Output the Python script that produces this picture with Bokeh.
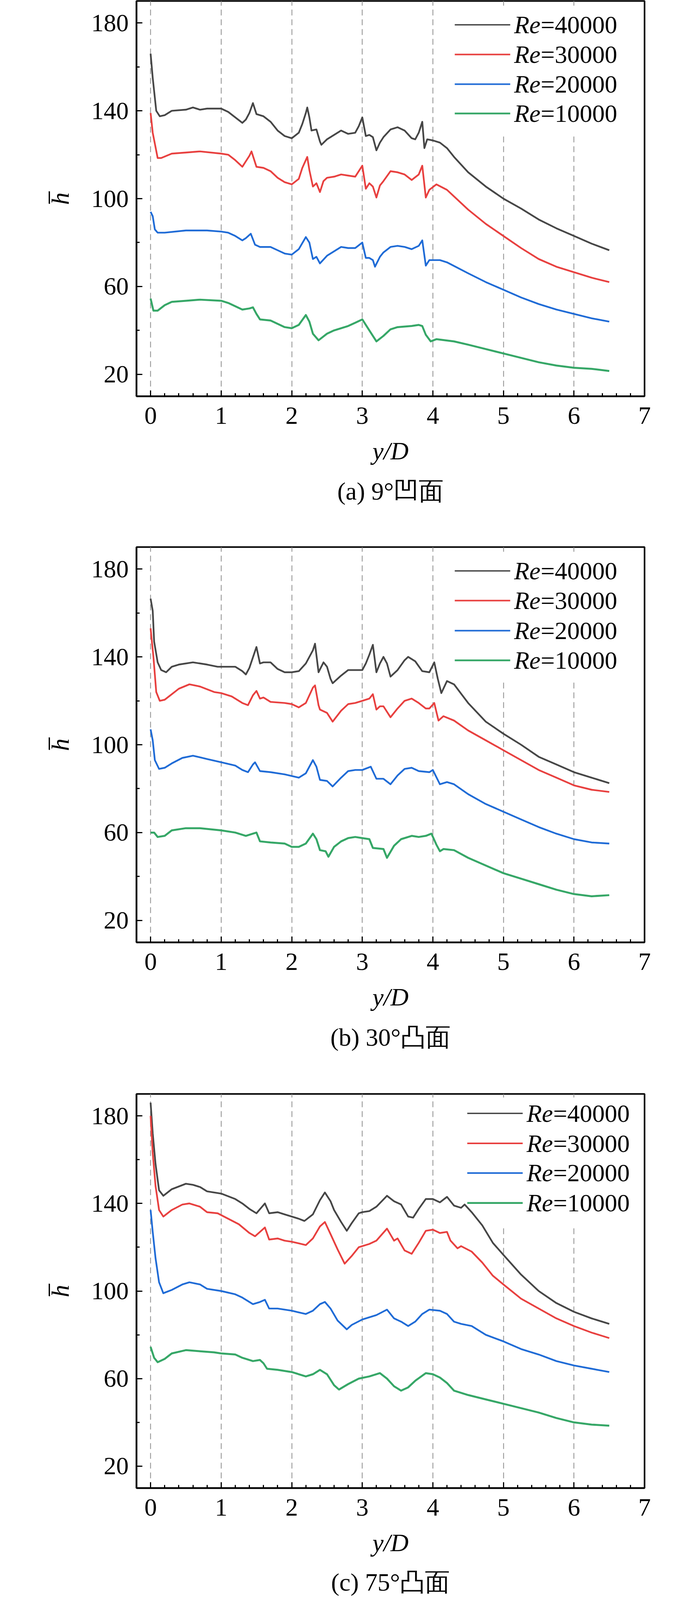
from bokeh.plotting import figure
from bokeh.layouts import column
from bokeh.models import FixedTicker, Label, BoxAnnotation, Title
from bokeh.embed import file_html
from bokeh.resources import INLINE

# ---------------- data ----------------
RE_LABELS = ["=40000", "=30000", "=20000", "=10000"]
COLORS = ["#464646", "#e8403f", "#1f6bd6", "#36a767"]
WIDTHS = [4.4, 4.4, 4.4, 5.0]
LEGEND_WIDTHS = [3.5, 4.0, 4.0, 4.7]
CAPTIONS = ["(a) 9°凹面", "(b) 30°凸面", "(c) 75°凸面"]
X_TICKS = [0, 1, 2, 3, 4, 5, 6, 7]
Y_TICKS = [20, 60, 100, 140, 180]
Y_MINOR = [40, 80, 120, 160]
GRID_X = [0, 1, 2, 3, 4, 5, 6]

# panel (a) 9 deg concave
A_X_40 = [0, 0.03, 0.08, 0.13, 0.2, 0.3, 0.5, 0.6, 0.7, 0.8, 1.0, 1.1, 1.2, 1.3, 1.35, 1.4, 1.45, 1.5, 1.6, 1.7, 1.8, 1.9, 2.0, 2.1, 2.15, 2.2, 2.22, 2.25, 2.28, 2.35, 2.4, 2.42, 2.5, 2.6, 2.7, 2.8, 2.9, 2.95, 3.0, 3.05, 3.1, 3.15, 3.2, 3.25, 3.3, 3.4, 3.5, 3.6, 3.7, 3.75, 3.8, 3.85, 3.88, 3.92, 4.0, 4.1, 4.2, 4.3, 4.5, 4.75, 5.0, 5.25, 5.5, 5.75, 6.0, 6.25, 6.5]
A_H_40 = [166, 155, 140, 137.5, 138, 140, 140.5, 141.5, 140.5, 141, 141, 139.5, 137, 134.5, 136, 139, 143.5, 138.5, 137.5, 135, 131, 128.5, 127.5, 130, 134, 139, 141.5, 137, 131, 131.5, 126, 124.5, 127, 129, 131, 129.5, 130, 133, 137, 128.5, 129, 128, 122, 125.5, 128, 131.5, 132.5, 131, 127.5, 127, 130, 135, 123, 127, 126.5, 125.5, 123, 119, 112, 105.5, 100, 95.5, 90.5, 86.5, 83, 79.5, 76.5]
A_X_30 = [0, 0.03, 0.1, 0.15, 0.3, 0.5, 0.7, 1.0, 1.1, 1.2, 1.3, 1.35, 1.4, 1.43, 1.5, 1.6, 1.7, 1.8, 1.9, 2.0, 2.1, 2.15, 2.22, 2.25, 2.3, 2.35, 2.4, 2.45, 2.5, 2.6, 2.7, 2.8, 2.9, 2.95, 3.0, 3.05, 3.1, 3.15, 3.2, 3.25, 3.3, 3.4, 3.5, 3.6, 3.7, 3.8, 3.85, 3.9, 3.95, 4.05, 4.2, 4.3, 4.5, 4.75, 5.0, 5.25, 5.5, 5.75, 6.0, 6.25, 6.5]
A_H_30 = [139, 130, 118.5, 118.5, 120.5, 121, 121.5, 120.5, 120, 117.5, 114.5, 117, 119.5, 121.5, 114.5, 114, 112.5, 109.5, 107.5, 106.5, 109, 114, 119, 113, 105.5, 107, 103, 108, 109.5, 110, 111, 110.5, 110, 112.5, 115, 104.5, 107, 105.5, 100.5, 106, 108, 112.5, 112, 111, 108.5, 111, 115, 100.5, 104, 106.5, 104, 101, 95, 88.5, 83, 77.5, 72.5, 69, 66.5, 64, 62]
A_X_20 = [0, 0.03, 0.06, 0.1, 0.2, 0.5, 0.8, 1.0, 1.1, 1.2, 1.3, 1.35, 1.42, 1.48, 1.55, 1.7, 1.8, 1.9, 2.0, 2.1, 2.2, 2.25, 2.3, 2.35, 2.4, 2.5, 2.6, 2.7, 2.8, 2.9, 3.0, 3.05, 3.1, 3.15, 3.18, 3.25, 3.3, 3.4, 3.5, 3.6, 3.7, 3.8, 3.85, 3.9, 3.95, 4.1, 4.2, 4.5, 4.75, 5.0, 5.25, 5.5, 5.75, 6.0, 6.25, 6.5]
A_H_20 = [94, 92, 86, 84.5, 84.5, 85.5, 85.5, 85, 84.5, 83, 81, 82, 84, 79, 78, 78, 76.5, 75, 74.5, 77, 82.5, 80, 72.5, 73.5, 70.5, 74, 76, 78, 77.5, 77.5, 80, 73, 73, 72, 69, 73.5, 75.5, 78, 78.5, 78, 77, 78.5, 81, 69.5, 72, 72, 71, 66, 62, 58.5, 55, 52, 49.5, 47.5, 45.5, 44]
A_X_10 = [0, 0.04, 0.1, 0.2, 0.3, 0.5, 0.7, 1.0, 1.1, 1.2, 1.3, 1.4, 1.45, 1.5, 1.55, 1.7, 1.8, 1.9, 2.0, 2.1, 2.2, 2.25, 2.3, 2.38, 2.5, 2.6, 2.8, 2.9, 3.0, 3.1, 3.2, 3.3, 3.4, 3.5, 3.7, 3.8, 3.85, 3.9, 3.97, 4.05, 4.3, 4.5, 4.75, 5.0, 5.25, 5.5, 5.75, 6.0, 6.25, 6.5]
A_H_10 = [54.5, 49, 49, 51.5, 53, 53.5, 54, 53.5, 52.5, 51, 49.5, 50, 50.5, 47.5, 45, 44.5, 43, 41.5, 41, 42.5, 47, 44, 38.5, 35.5, 38.5, 40, 42, 43.5, 45, 40, 35, 37.5, 40.5, 41.5, 42, 42.5, 42, 38, 35, 36, 35, 33.5, 31.5, 29.5, 27.5, 25.5, 24, 23, 22.5, 21.5]

# panel (b) 30 deg convex
B_X_40 = [0, 0.03, 0.05, 0.1, 0.15, 0.22, 0.3, 0.4, 0.6, 0.8, 0.95, 1.1, 1.2, 1.3, 1.35, 1.4, 1.5, 1.55, 1.6, 1.7, 1.8, 1.9, 2.0, 2.1, 2.2, 2.3, 2.33, 2.38, 2.45, 2.5, 2.55, 2.58, 2.7, 2.8, 2.9, 3.0, 3.05, 3.1, 3.15, 3.2, 3.25, 3.3, 3.35, 3.4, 3.5, 3.6, 3.65, 3.75, 3.85, 3.95, 4.02, 4.07, 4.12, 4.2, 4.3, 4.5, 4.75, 5.0, 5.25, 5.5, 5.75, 6.0, 6.25, 6.5]
B_H_40 = [166.5, 161, 147, 137.5, 134, 133, 135.5, 136.5, 137.5, 136.5, 135.5, 135.5, 135.5, 133.5, 132, 135, 144.5, 137, 137.5, 137.5, 134.5, 133, 133, 133.5, 137, 143, 146, 133, 137.5, 135.5, 130, 128, 131.5, 134, 134, 134, 137, 141, 145.5, 133, 137, 140, 137, 131, 134, 138.5, 140, 138, 133.5, 133, 137.5, 130, 123.5, 129, 127.5, 119, 110.5, 105, 100, 94.5, 91, 87.5, 85, 82.5]
B_X_30 = [0, 0.04, 0.08, 0.13, 0.2, 0.3, 0.4, 0.55, 0.7, 0.9, 1.0, 1.15, 1.3, 1.38, 1.45, 1.5, 1.55, 1.6, 1.7, 1.9, 2.0, 2.1, 2.2, 2.3, 2.33, 2.38, 2.4, 2.5, 2.58, 2.7, 2.8, 2.9, 3.0, 3.1, 3.15, 3.2, 3.25, 3.3, 3.4, 3.5, 3.6, 3.7, 3.8, 3.9, 3.95, 4.02, 4.08, 4.15, 4.3, 4.5, 4.75, 5.0, 5.25, 5.5, 5.75, 6.0, 6.25, 6.5]
B_H_30 = [153, 140, 124, 120, 120.5, 123, 125.5, 127.5, 126.5, 124, 123.5, 122, 119, 118, 122.5, 124.5, 121, 121.5, 119.5, 119, 118.5, 117, 119, 126, 127, 118, 116, 114.5, 110.5, 115.5, 118.5, 119, 120, 121, 123, 116, 117.5, 117.5, 112.5, 116.5, 120, 121, 119, 116.5, 116.5, 119, 111, 113, 111, 106.5, 102, 97.5, 93, 88.5, 85, 81.5, 79.5, 78.5]
B_X_20 = [0, 0.03, 0.06, 0.12, 0.2, 0.3, 0.45, 0.6, 0.8, 1.0, 1.2, 1.3, 1.38, 1.45, 1.48, 1.55, 1.7, 1.9, 2.1, 2.2, 2.3, 2.35, 2.4, 2.5, 2.58, 2.7, 2.8, 2.9, 3.0, 3.12, 3.2, 3.3, 3.4, 3.5, 3.6, 3.7, 3.8, 3.95, 4.0, 4.1, 4.2, 4.3, 4.5, 4.75, 5.0, 5.25, 5.5, 5.75, 6.0, 6.25, 6.5]
B_H_20 = [107, 102, 93, 89, 89.5, 91.5, 94, 95, 93.5, 92, 90.5, 88.5, 87.5, 91, 92, 88, 87.5, 86.5, 85, 87, 93, 90, 84, 83.5, 81, 85, 88, 88.5, 88.5, 90, 84.5, 84.5, 82, 86, 89, 89.5, 88, 87.5, 88.5, 82, 83, 82, 77.5, 73, 69.5, 66, 62.5, 59.5, 57, 55.5, 55]
B_X_10 = [0, 0.05, 0.1, 0.2, 0.3, 0.5, 0.7, 1.0, 1.2, 1.35, 1.45, 1.5, 1.55, 1.7, 1.9, 2.0, 2.1, 2.2, 2.3, 2.35, 2.4, 2.48, 2.52, 2.6, 2.7, 2.8, 2.9, 3.0, 3.1, 3.15, 3.3, 3.35, 3.45, 3.55, 3.7, 3.8, 3.9, 3.98, 4.05, 4.1, 4.15, 4.3, 4.5, 4.75, 5.0, 5.25, 5.5, 5.75, 6.0, 6.25, 6.5]
B_H_10 = [60, 60, 58, 58.5, 61, 62, 62, 61, 60, 58.5, 59.5, 60, 56, 55.5, 55, 53.5, 53.5, 55, 59.5, 57, 52, 51.5, 49, 53.5, 56, 57.5, 58, 57.5, 57, 53, 52.5, 48.5, 54, 57, 58.5, 58, 58.5, 59.5, 54.5, 51.5, 52.5, 52, 48.5, 45, 41.5, 39, 36.5, 34, 32, 31, 31.5]

# panel (c) 75 deg convex
C_X_40 = [0, 0.03, 0.07, 0.12, 0.18, 0.3, 0.5, 0.6, 0.7, 0.8, 1.0, 1.2, 1.3, 1.4, 1.5, 1.58, 1.62, 1.68, 1.8, 1.9, 2.0, 2.1, 2.18, 2.3, 2.4, 2.47, 2.55, 2.6, 2.7, 2.78, 2.85, 2.95, 3.0, 3.1, 3.2, 3.35, 3.45, 3.55, 3.65, 3.72, 3.8, 3.9, 4.0, 4.1, 4.2, 4.3, 4.4, 4.45, 4.55, 4.7, 4.85, 5.0, 5.25, 5.5, 5.75, 6.0, 6.25, 6.5]
C_H_40 = [186, 172, 158, 146, 143.5, 146.5, 149, 148.5, 147.5, 145.5, 144.5, 142, 140, 137.5, 135.5, 138.5, 140, 135.5, 136, 135, 134, 133, 132, 135, 141.5, 145, 141, 137, 131.5, 127.5, 131, 135.5, 136, 136.5, 138.5, 143.5, 141, 139.5, 134, 133.5, 137.5, 142, 142, 140.5, 143, 139, 138, 139.5, 136, 130, 122, 116.5, 107.5, 100, 94.5, 90.5, 87.5, 85]
C_X_30 = [0, 0.03, 0.07, 0.12, 0.18, 0.3, 0.45, 0.55, 0.7, 0.8, 0.95, 1.1, 1.25, 1.4, 1.48, 1.55, 1.62, 1.68, 1.8, 1.9, 2.0, 2.2, 2.3, 2.4, 2.47, 2.55, 2.65, 2.75, 2.85, 2.95, 3.1, 3.2, 3.35, 3.45, 3.5, 3.6, 3.7, 3.8, 3.9, 4.0, 4.1, 4.2, 4.25, 4.35, 4.4, 4.55, 4.7, 4.85, 5.0, 5.25, 5.5, 5.75, 6.0, 6.25, 6.5]
C_H_30 = [180, 163, 148, 137, 134, 137, 139.5, 140, 138.5, 136, 135.5, 133, 130.5, 126.5, 125, 127, 129, 123.5, 124, 123, 122.5, 121, 124, 129.5, 131.5, 126, 119, 112.5, 116, 120, 121.5, 123, 128.5, 123, 124, 118.5, 117, 122, 127.5, 128, 126.5, 127, 123, 119.5, 120.5, 118, 113, 107, 103, 96.5, 92, 87.5, 84, 81, 78.5]
C_X_20 = [0, 0.03, 0.07, 0.12, 0.18, 0.3, 0.45, 0.55, 0.7, 0.8, 1.0, 1.2, 1.3, 1.45, 1.55, 1.62, 1.68, 1.8, 2.0, 2.2, 2.3, 2.4, 2.47, 2.55, 2.65, 2.78, 2.85, 3.0, 3.2, 3.35, 3.45, 3.55, 3.65, 3.75, 3.85, 3.95, 4.1, 4.2, 4.3, 4.4, 4.55, 4.75, 5.0, 5.25, 5.5, 5.75, 6.0, 6.25, 6.5]
C_H_20 = [137, 127, 115, 104, 99, 100.5, 103, 104, 103, 101, 100, 98.5, 97, 94, 95, 96, 92, 92, 91, 89.5, 91, 94, 95, 92, 86.5, 82.5, 84.5, 87, 89, 91.5, 87.5, 86, 84, 86, 89.5, 91.5, 91, 89.5, 86, 85, 84, 80, 77, 73.5, 71, 68, 66, 64.5, 63]
C_X_10 = [0, 0.05, 0.1, 0.2, 0.3, 0.5, 0.7, 0.9, 1.0, 1.2, 1.3, 1.45, 1.55, 1.6, 1.65, 1.8, 2.0, 2.2, 2.3, 2.4, 2.5, 2.6, 2.67, 2.8, 2.95, 3.1, 3.25, 3.35, 3.45, 3.55, 3.65, 3.75, 3.9, 4.0, 4.1, 4.2, 4.3, 4.35, 4.5, 4.75, 5.0, 5.25, 5.5, 5.75, 6.0, 6.25, 6.5]
C_H_10 = [74.5, 69.5, 67.5, 69, 71.5, 73, 72.5, 72, 71.5, 71, 69.5, 68, 68.5, 67, 64.5, 64, 63, 61, 62, 64, 62, 57, 55, 57.5, 60, 61, 62.5, 60, 56.5, 54.5, 56, 59, 62.5, 62, 60.5, 58, 54.5, 54, 52.5, 50.5, 48.5, 46.5, 44.5, 42, 40, 39, 38.5]

PANELS = [
    [(A_X_40, A_H_40), (A_X_30, A_H_30), (A_X_20, A_H_20), (A_X_10, A_H_10)],
    [(B_X_40, B_H_40), (B_X_30, B_H_30), (B_X_20, B_H_20), (B_X_10, B_H_10)],
    [(C_X_40, C_H_40), (C_X_30, C_H_30), (C_X_20, C_H_20), (C_X_10, C_H_10)],
]

# ---------------- layout constants ----------------
X0, X1 = -0.2, 7.0
Y0, Y1 = 10.0, 190.0
FRAME_W, FRAME_H = 1301, 1012
BL, BR = 349, 106
PXX = FRAME_W / (X1 - X0)
PXY = FRAME_H / (Y1 - Y0)
FONT = "Liberation Serif"
FS = "64px"

LAYOUT = [
    dict(top=2, bottom=366, lx=0, rows=[61, 137, 213, 288], cap=54),
    dict(top=20, bottom=368, lx=0, rows=[61, 137, 214, 290], cap=54),
    dict(top=20, bottom=298, lx=32, rows=[50, 127, 203, 280], cap=50),
]


def dx(px):
    return X0 + px / PXX


def dy(px_from_top):
    return Y1 - px_from_top / PXY


def make_panel(series, caption, lay):
    p = figure(width=BL + FRAME_W + BR, height=lay["top"] + FRAME_H + lay["bottom"],
               x_range=(X0, X1), y_range=(Y0, Y1),
               min_border_left=BL, min_border_right=BR,
               min_border_top=lay["top"], min_border_bottom=lay["bottom"],
               output_backend="svg", toolbar_location=None)
    p.background_fill_color = "white"
    p.border_fill_color = "white"
    p.outline_line_color = "black"
    p.outline_line_width = 4
    p.outline_line_alpha = 1.0

    p.xaxis.ticker = FixedTicker(ticks=X_TICKS, minor_ticks=[i * 0.2 for i in range(0, 36)])
    p.yaxis.ticker = FixedTicker(ticks=Y_TICKS, minor_ticks=Y_MINOR)
    p.xgrid.ticker = FixedTicker(ticks=GRID_X)
    p.xgrid.grid_line_color = "#8c8c8c"
    p.xgrid.grid_line_width = 2
    p.xgrid.grid_line_dash = "15 10"
    p.ygrid.visible = False

    for ax in (p.xaxis[0], p.yaxis[0]):
        ax.axis_line_width = 4
        ax.axis_line_color = "black"
        ax.major_tick_line_width = 3
        ax.minor_tick_line_width = 3
        ax.major_tick_line_color = "black"
        ax.minor_tick_line_color = "black"
        ax.major_tick_in = 15
        ax.major_tick_out = 0
        ax.minor_tick_in = 8
        ax.minor_tick_out = 0
        ax.major_label_text_font = FONT
        ax.major_label_text_font_size = FS
        ax.major_label_text_color = "black"
        ax.axis_label_text_font = FONT
        ax.axis_label_text_font_size = FS
        ax.axis_label_text_font_style = "italic"
        ax.axis_label_text_color = "black"
    p.xaxis.major_label_standoff = 28
    p.xaxis.axis_label = "y/D"
    p.xaxis.axis_label_standoff = 31
    p.yaxis.major_label_standoff = 20
    p.yaxis.axis_label = "h\u0305"
    p.yaxis.axis_label_standoff = 41

    for (xs, hs), col, w in zip(series, COLORS, WIDTHS):
        p.line(xs, hs, line_color=col, line_width=w, line_join="round")

    # legend (no frame, opaque white background)
    lx = lay["lx"]
    p.add_layout(BoxAnnotation(left=dx(800 + lx), right=dx(1262 + lx),
                               top=dy(15), bottom=dy(338),
                               fill_color="white", fill_alpha=1.0,
                               line_alpha=0.0, level="underlay"))
    rows = [dy(r) for r in lay["rows"]]
    p.segment(x0=[dx(815 + lx)] * 4, x1=[dx(957 + lx)] * 4, y0=rows, y1=rows,
              line_color=COLORS, line_width=LEGEND_WIDTHS)
    for r, lab in zip(rows, RE_LABELS):
        p.add_layout(Label(x=dx(967 + lx), y=r, text="Re", text_font=FONT,
                           text_font_size=FS, text_font_style="italic",
                           text_baseline="middle", text_align="left", text_color="black"))
        p.add_layout(Label(x=dx(967 + 68 + lx), y=r, text=lab, text_font=FONT,
                           text_font_size=FS, text_baseline="middle",
                           text_align="left", text_color="black"))

    # caption under the panel
    p.add_layout(Title(text=caption, align="center", text_font=FONT,
                       text_font_size=FS, text_font_style="normal",
                       text_color="black", standoff=lay["cap"]), "below")
    return p


figs = [make_panel(s, c, l) for s, c, l in zip(PANELS, CAPTIONS, LAYOUT)]
layout = column(*figs, spacing=0)

open("out.html", "w").write(file_html(layout, INLINE))
